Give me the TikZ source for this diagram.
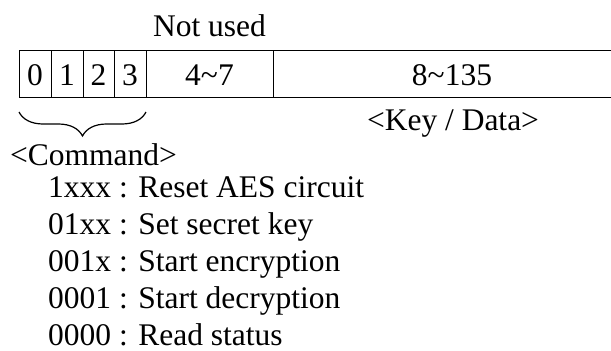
\documentclass[tikz,border=0pt]{standalone}
\usepackage{fontspec}
\setmainfont{Liberation Serif}
\usetikzlibrary{decorations.pathreplacing}
\begin{document}
\begin{tikzpicture}[x=1pt,y=-1pt,
  txt/.style={inner sep=0pt,font=\fontsize{31.5}{36}\selectfont},
  cell/.style={draw,line width=1.3pt,inner sep=0pt},
  brc/.style={decorate,decoration={brace,amplitude=24pt,mirror},line width=1.2pt}]
\useasboundingbox (0,0) rectangle (611,351);
\begin{scope}
\clip (0,0) rectangle (611,351);
\node[cell,minimum width=32pt,minimum height=47pt,anchor=north west] (c0) at (19,50) {};
\node[cell,minimum width=32pt,minimum height=47pt,anchor=north west] (c1) at (51,50) {};
\node[cell,minimum width=31pt,minimum height=47pt,anchor=north west] (c2) at (83,50) {};
\node[cell,minimum width=32pt,minimum height=47pt,anchor=north west] (c3) at (114,50) {};
\node[cell,minimum width=127pt,minimum height=47pt,anchor=north west] (c4) at (146,50) {};
\node[cell,minimum width=358pt,minimum height=47pt,anchor=north west] (c5) at (273,50) {};
\end{scope}
\node[txt,anchor=base] (t0) at (35,85) {0};
\node[txt,anchor=base] (t1) at (67,85) {1};
\node[txt,anchor=base] (t2) at (98.5,85) {2};
\node[txt,anchor=base] (t3) at (130,85) {3};
\node[txt,anchor=base] (t4) at (209.5,85) {4\textasciitilde 7};
\node[txt,anchor=base] (t5) at (452,85) {8\textasciitilde 135};
\node[txt,anchor=base] (nu) at (209.5,36) {Not used};
\node[txt,anchor=base] (kd) at (453,130) {<Key / Data>};
\coordinate (bl) at (19,112);
\coordinate (br) at (146,112);
\draw[brc] (bl) -- (br);
\node[txt,anchor=base west] (cmd) at (10,165) {<Command>};
\node[txt,anchor=base west] (l1) at (48,197) {1xxx : Reset AES circuit};
\node[txt,anchor=base west] (l2) at (48,234) {01xx : Set secret key};
\node[txt,anchor=base west] (l3) at (48,271) {001x : Start encryption};
\node[txt,anchor=base west] (l4) at (48,308) {0001 : Start decryption};
\node[txt,anchor=base west] (l5) at (48,345) {0000 : Read status};
\end{tikzpicture}
\end{document}
